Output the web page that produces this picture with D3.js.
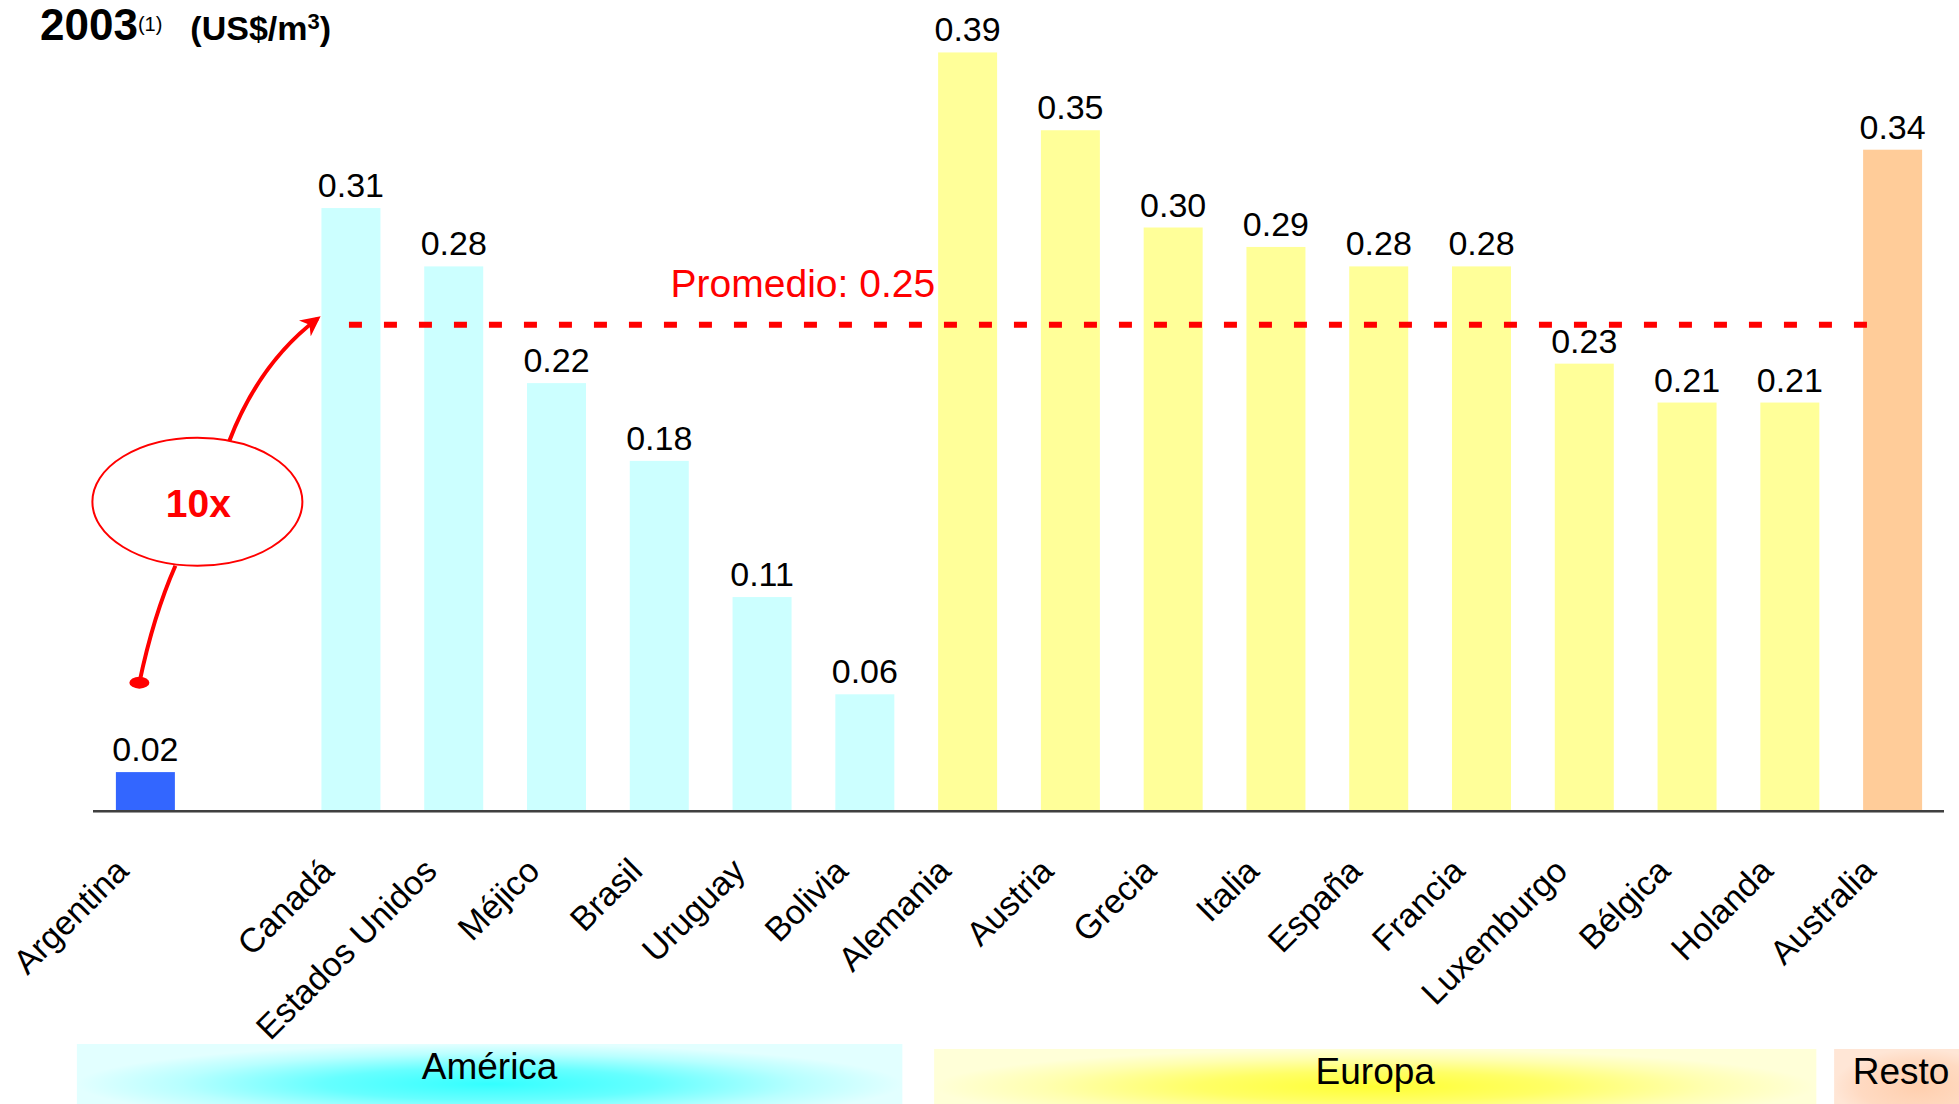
<!DOCTYPE html>
<html>
<head>
<meta charset="utf-8">
<script src="https://cdn.jsdelivr.net/npm/d3@7"></script>
<style>
  html, body { margin: 0; padding: 0; background: #fff; }
  svg { display: block; }
</style>
</head>
<body>
<svg id="chart" width="1959" height="1104"></svg>
<script>
// Water tariff per country, 2003 (US$/m3)
const countries = ["Argentina", "Canadá", "Estados Unidos", "Méjico", "Brasil", "Uruguay", "Bolivia",
  "Alemania", "Austria", "Grecia", "Italia", "España", "Francia", "Luxemburgo", "Bélgica", "Holanda", "Australia"];
const values = [0.02, 0.31, 0.28, 0.22, 0.18, 0.11, 0.06,
  0.39, 0.35, 0.30, 0.29, 0.28, 0.28, 0.23, 0.21, 0.21, 0.34];
const regionOf = ["Argentina", "América", "América", "América", "América", "América", "América",
  "Europa", "Europa", "Europa", "Europa", "Europa", "Europa", "Europa", "Europa", "Europa", "Resto"];
const average = 0.25;
const averageLabel = "Promedio: 0.25";
const ratioLabel = "10x";
const regions = ["América", "Europa", "Resto"];
const regionMembers = [["Argentina", "Bolivia"], ["Alemania", "Holanda"], ["Australia", "Australia"]];

const fills = { "Argentina": "#3366FF", "América": "#CCFFFF", "Europa": "#FFFF99", "Resto": "#FFCC99" };
const FONT = "'Liberation Sans', Arial, sans-serif";
const NARROW = "'Liberation Sans Narrow', 'Arial Narrow', 'Liberation Sans', Arial, sans-serif";

const svg = d3.select("#chart");

// slot list with an empty gap after Argentina
const slots = [countries[0], "__gap", ...countries.slice(1)];
const x = d3.scaleBand().domain(slots).range([94, 1944]).paddingInner(0.426).paddingOuter(0.213);
const y = d3.scaleLinear().domain([0, 0.4]).range([811, 33]);
const bw = x.bandwidth();
const cx = d => x(d) + bw / 2;

const data = countries.map((c, i) => ({ name: c, value: values[i], region: regionOf[i] }));

// gradients for the region bands
const defs = svg.append("defs");
function radial(id, stops) {
  const g = defs.append("radialGradient").attr("id", id)
    .attr("cx", 0.5).attr("cy", 0.5).attr("r", 0.5);
  stops.forEach(([o, c]) => g.append("stop").attr("offset", o).attr("stop-color", c));
}
const bandGradients = [
  [["0%", "#33FFFF"], ["40%", "#66FFFF"], ["75%", "#B8FFFF"], ["100%", "#E2FFFF"]],
  [["0%", "#FFFF33"], ["40%", "#FFFF66"], ["75%", "#FFFFB0"], ["100%", "#FFFFD8"]],
  [["0%", "#FFCFAE"], ["70%", "#FFDAC2"], ["100%", "#FFE6D6"]]
];
bandGradients.forEach((s, i) => radial("bandGrad" + i, s));

// title
const title = svg.append("text").attr("x", 40).attr("y", 40)
  .attr("font-family", FONT).attr("font-weight", "bold").attr("fill", "#000");
title.append("tspan").attr("font-size", 44).text("2003");
title.append("tspan").attr("font-size", 20).attr("font-weight", "normal").attr("dy", -9).text("(1)");
title.append("tspan").attr("font-size", 34).attr("dy", 9).attr("dx", 28).text("(US$/m");
title.append("tspan").attr("font-size", 22).attr("dy", -11).text("3");
title.append("tspan").attr("font-size", 34).attr("dy", 11).text(")");

// bars
svg.append("g").selectAll("rect").data(data).join("rect")
  .attr("x", d => x(d.name))
  .attr("y", d => y(d.value))
  .attr("width", bw)
  .attr("height", d => y(0) - y(d.value))
  .attr("fill", d => fills[d.region]);

// value labels
svg.append("g").selectAll("text").data(data).join("text")
  .attr("x", d => cx(d.name))
  .attr("y", d => y(d.value) - 11)
  .attr("text-anchor", "middle")
  .attr("font-family", FONT).attr("font-size", 34).attr("fill", "#000")
  .text(d => d.value.toFixed(2));

// baseline
svg.append("line")
  .attr("x1", x.range()[0] - 1).attr("x2", x.range()[1])
  .attr("y1", y(0) + 1).attr("y2", y(0) + 1)
  .attr("stroke", "#9a9a9a").attr("stroke-width", 2);
svg.append("line")
  .attr("x1", x.range()[0] - 1).attr("x2", x.range()[1])
  .attr("y1", y(0)).attr("y2", y(0))
  .attr("stroke", "#404040").attr("stroke-width", 2);

// rotated country names
svg.append("g").selectAll("text").data(data).join("text")
  .attr("transform", d => `translate(${cx(d.name) - 15},${y(0) + 62}) rotate(-45)`)
  .attr("text-anchor", "end")
  .attr("font-family", FONT).attr("font-size", 34).attr("fill", "#000")
  .text(d => d.name);

// average line
svg.append("line")
  .attr("x1", cx("Canadá") - 2).attr("x2", cx("Australia") - 8)
  .attr("y1", y(average)).attr("y2", y(average))
  .attr("stroke", "#FF0000").attr("stroke-width", 6)
  .attr("stroke-dasharray", "13,22");
svg.append("text")
  .attr("x", x("Alemania") - 3).attr("y", y(average) - 28)
  .attr("text-anchor", "end")
  .attr("font-family", FONT).attr("font-size", 39).attr("fill", "#FF0000")
  .text(averageLabel);

// "10x" callout from Argentina up to the average
defs.append("marker").attr("id", "arrow").attr("viewBox", "0 0 10 10")
  .attr("refX", 8).attr("refY", 5).attr("markerWidth", 5).attr("markerHeight", 5)
  .attr("orient", "auto").attr("markerUnits", "strokeWidth")
  .append("path").attr("d", "M0,0 L10,5 L0,10 L3,5 Z").attr("fill", "#FF0000");

const ex = cx("Argentina") + 52, ey = y(0.159), erx = 105, ery = 64;
const dotX = cx("Argentina") - 6, dotY = y(0.066);
const tipX = x("Canadá") - 4, tipY = y(average) - 6;
const topX = ex + 32, topY = ey - ery + 3;
const botX = ex - 22, botY = ey + ery;

svg.append("path")
  .attr("d", `M${topX},${topY} Q${topX + 30},${topY - 78} ${tipX},${tipY}`)
  .attr("fill", "none").attr("stroke", "#FF0000").attr("stroke-width", 4)
  .attr("marker-end", "url(#arrow)");
svg.append("path")
  .attr("d", `M${botX},${botY} Q${botX - 22},${botY + 50} ${dotX},${dotY}`)
  .attr("fill", "none").attr("stroke", "#FF0000").attr("stroke-width", 4);
svg.append("ellipse").attr("cx", dotX).attr("cy", dotY).attr("rx", 10).attr("ry", 6)
  .attr("fill", "#FF0000");
svg.append("ellipse").attr("cx", ex).attr("cy", ey).attr("rx", erx).attr("ry", ery)
  .attr("fill", "#fff").attr("stroke", "#FF0000").attr("stroke-width", 2);
svg.append("text").attr("x", ex + 1).attr("y", ey + 15)
  .attr("text-anchor", "middle")
  .attr("font-family", FONT).attr("font-weight", "bold").attr("font-size", 39).attr("fill", "#FF0000")
  .text(ratioLabel);

// region bands along the bottom
const bandPad = [[39, 8], [4, -3], [29, 80]];
const bandTop = [1044, 1049, 1049];
const labelShift = [0, 0, -17];
const band = svg.append("g");
regions.forEach((r, i) => {
  const [a, b] = regionMembers[i];
  const x0 = x(a) - bandPad[i][0];
  const x1 = x(b) + bw + bandPad[i][1];
  band.append("rect").attr("x", x0).attr("y", bandTop[i])
    .attr("width", x1 - x0).attr("height", 1104 - bandTop[i] + 20)
    .attr("fill", `url(#bandGrad${i})`);
  band.append("text").attr("x", (x0 + x1) / 2 + labelShift[i]).attr("y", bandTop[i] + 35)
    .attr("text-anchor", "middle").attr("font-family", NARROW).attr("font-size", 37)
    .attr("fill", "#000").text(r);
});
</script>
</body>
</html>
